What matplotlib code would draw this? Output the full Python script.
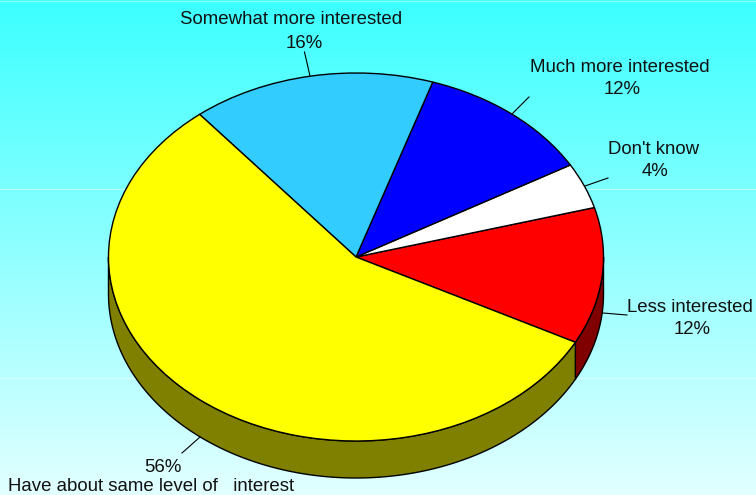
import numpy as np
import matplotlib
matplotlib.use("Agg")
import matplotlib.pyplot as plt

plt.rcParams['font.family'] = ['Liberation Sans', 'DejaVu Sans']

# counter-clockwise from the red/yellow boundary
labels = ["Less interested", "Don't know", "Much more interested",
          "Somewhat more interested", "Have about same level of   interest"]
values = [12, 4, 11.65, 15.9, 56.45]
pct_labels = ["12%", "4%", "12%", "16%", "56%"]
colors = ['#ff0000', '#ffffff', '#0000ff', '#33ccff', '#ffff00']
side_colors = ['#800000', '#808080', '#000080', '#1a6680', '#808000']

W, H = 756, 495
CX, CY, RX, RY = 356, 257, 247.5, 184
DEPTH = 37 / RY
START = -27.6


def px(x, y):
    # picture pixels -> pie units
    return (x - CX) / RX, (CY - y) / RY


fig = plt.figure(figsize=(W / 100, H / 100), dpi=100)
ax = fig.add_axes([0, 0, 1, 1])

# 画面全体のグラデーション背景
grad = np.linspace(0, 1, 256).reshape(-1, 1)
top = np.array([60, 255, 255]) / 255
bottom = np.array([226, 255, 255]) / 255
img = top + (bottom - top) * grad[:, :, None]
x0, y1 = px(0, 0)
x1, y0 = px(W, H)
ax.imshow(img, extent=(x0, x1, y0, y1), aspect='auto', zorder=0)

ax.pie(values, colors=colors, startangle=START, radius=1,
       wedgeprops={'edgecolor': 'black', 'linewidth': 1.0, 'zorder': 4})
ax.set_aspect('auto')
ax.set_xlim(x0, x1)
ax.set_ylim(y0, y1)
ax.axis('off')
for p in ax.patches:
    p.set_zorder(4)

# 側面（手前の半分だけ）
edges = START + np.cumsum([0] + values) * 3.6
for i in range(len(values)):
    a0, a1 = edges[i], edges[i + 1]
    # 180-360度の範囲に切り詰める
    for lo, hi in [(a0, a1), (a0 - 360, a1 - 360), (a0 + 360, a1 + 360)]:
        lo2, hi2 = max(lo, -180), min(hi, 0)
        if hi2 <= lo2:
            continue
        t = np.radians(np.linspace(lo2, hi2, 200))
        xs = np.cos(t)
        ys = np.sin(t)
        ax.fill(np.r_[xs, xs[::-1]], np.r_[ys, ys[::-1] - DEPTH],
                facecolor=side_colors[i], edgecolor='black', linewidth=1.0,
                zorder=3, joinstyle='round')

# 背景の薄い線
for y in [1, 189, 378]:
    ax.plot(*zip(px(0, y), px(W, y)), color='white', alpha=0.45, lw=0.8, zorder=1)

# リーダー線
leaders = [((627, 315), (603, 313)), ((608, 178), (585, 186)),
           ((529, 97), (512, 114)), ((304.5, 52), (310, 76)),
           ((182, 453), (200, 437))]
for a, b in leaders:
    ax.plot(*zip(px(*a), px(*b)), color='black', lw=0.8, zorder=5)

# ラベル
name_pos = [(690, 308), (654, 149), (620, 67), (291, 20), (151, 486.5)]
pct_pos = [(692, 330), (655, 171), (622, 89), (304, 43), (163, 467)]
for name, pct, n, q in zip(labels, pct_labels, name_pos, pct_pos):
    ax.text(*px(*n), name, ha='center', va='center', fontsize=13.4, color='#111111', zorder=6)
    ax.text(*px(*q), pct, ha='center', va='center', fontsize=13.4, color='#111111', zorder=6)

fig.savefig('out.png', dpi=100)
plt.close(fig)
